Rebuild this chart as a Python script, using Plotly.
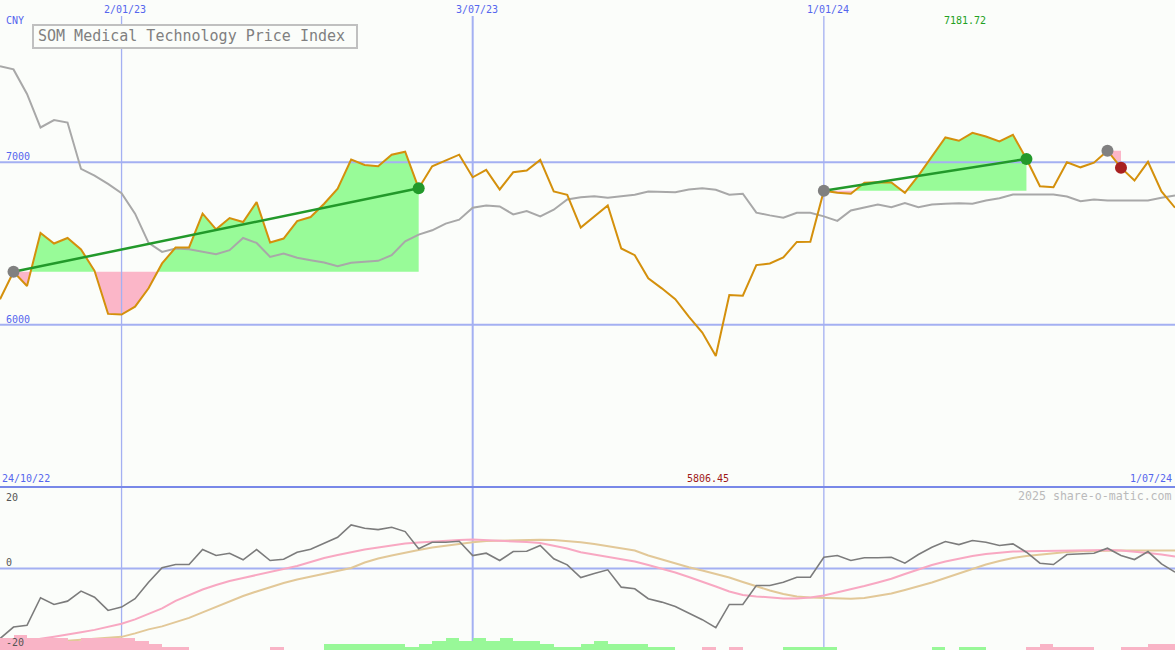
import plotly.graph_objects as go
import pandas as pd
import numpy as np

# ---------------- data ----------------
start_date = "2022-10-31"
n_weeks = 88
dates = pd.date_range(start_date, periods=n_weeks, freq="7D")

price = [6156.5, 6325.7, 6238.0, 6564.8, 6499.8, 6534.1, 6463.0, 6331.8, 6066.4, 6062.0,
         6111.1, 6224.0, 6377.2, 6475.3, 6476.0, 6683.7, 6587.5, 6656.7, 6632.2, 6754.8,
         6506.0, 6530.4, 6638.3, 6662.8, 6745.0, 6837.0, 7016.6, 6984.1, 6975.5, 7047.2,
         7065.6, 6840.0, 6975.5, 7010.4, 7047.2, 6908.0, 6953.4, 6832.7, 6938.7, 6949.1,
         7014.7, 6820.4, 6800.2, 6597.9, 6667.1, 6734.6, 6469.1, 6428.1, 6285.2, 6223.9,
         6156.5, 6049.8, 5951.8, 5806.45, 6182.9, 6178.6, 6366.8, 6377.2, 6414.0, 6509.6,
         6511.0, 6825.0, 6812.4, 6806.3, 6873.7, 6877.4, 6876.0, 6812.4, 6918.5, 7034.9,
         7153.3, 7133.0, 7181.72, 7159.4, 7128.7, 7169.8, 7020.8, 6852.9, 6846.7, 7000.0,
         6969.3, 6998.0, 7071.7, 6967.0, 6887.8, 7003.0, 6820.4, 6720.5]

average = [7592.8, 7572.5, 7421.1, 7214.6, 7259.9, 7245.2, 6959.5, 6918.5, 6867.6, 6810.0,
           6683.7, 6503.5, 6448.3, 6469.1, 6464.9, 6448.3, 6434.2, 6458.7, 6534.1, 6503.5,
           6417.6, 6438.5, 6412.7, 6397.4, 6383.3, 6360.6, 6380.9, 6387.0, 6393.1, 6428.1,
           6513.9, 6555.0, 6581.3, 6622.4, 6646.9, 6720.5, 6734.6, 6728.4, 6679.4, 6699.6,
           6667.1, 6708.2, 6771.4, 6785.4, 6791.6, 6781.8, 6791.6, 6800.2, 6820.4, 6820.4,
           6816.1, 6832.7, 6840.6, 6830.8, 6800.2, 6806.3, 6689.8, 6673.3, 6659.2, 6689.8,
           6689.8, 6667.1, 6639.6, 6703.9, 6724.1, 6740.7, 6724.1, 6748.7, 6724.1, 6740.7,
           6745.0, 6748.7, 6745.0, 6765.2, 6779.3, 6802.0, 6802.0, 6802.0, 6802.0, 6789.7,
           6760.9, 6771.4, 6765.2, 6765.2, 6765.2, 6765.2, 6781.8, 6795.9]

momentum = [-19.37, -16.17, -15.70, -8.07, -9.92, -9.01, -6.25, -7.91, -11.57, -10.66,
            -8.35, -3.77, 0.19, 1.10, 1.10, 5.23, 3.58, 4.22, 2.40, 5.23,
            2.20, 2.56, 4.49, 5.32, 6.97, 8.62, 12.04, 11.10, 10.74, 11.38,
            10.19, 5.43, 7.25, 7.25, 7.52, 3.58, 4.22, 2.20, 4.68, 4.77,
            6.34, 2.67, 1.02, -2.48, -1.38, -0.36, -5.15, -5.59, -8.35, -9.28,
            -10.47, -12.31, -14.13, -16.34, -9.92, -9.92, -4.68, -4.68, -3.77, -2.40,
            -2.40, 3.11, 3.58, 2.20, 2.95, 2.95, 3.11, 1.46, 3.86, 5.87,
            7.44, 6.61, 7.71, 7.25, 6.34, 6.80, 4.49, 1.46, 1.10, 3.86,
            4.05, 4.22, 5.59, 3.58, 2.48, 4.68, 1.29, -1.02]

signal = [-21.68, -20.94, -20.11, -19.42, -18.87, -18.32, -17.63, -16.94, -16.12, -15.24,
          -14.05, -12.54, -11.02, -8.95, -7.30, -5.79, -4.55, -3.44, -2.62, -1.79,
          -0.96, -0.14, 0.69, 1.79, 2.89, 3.72, 4.55, 5.23, 5.79, 6.34,
          6.89, 7.16, 7.44, 7.71, 7.85, 7.99, 7.85, 7.71, 7.58, 7.30,
          7.03, 6.34, 5.51, 4.49, 3.86, 3.31, 2.76, 1.93, 0.96, 0.0,
          -1.10, -2.34, -3.58, -4.96, -6.34, -7.30, -7.71, -7.99, -8.27, -8.27,
          -7.99, -7.44, -6.61, -5.79, -4.82, -3.86, -2.84, -1.52, -0.28, 0.96,
          1.93, 2.76, 3.44, 3.99, 4.41, 4.68, 4.77, 4.82, 4.82, 4.96,
          5.10, 5.15, 5.10, 4.96, 4.68, 4.27, 3.86, 3.31]

slow = [-21.90, -21.49, -21.21, -20.80, -20.39, -19.97, -19.70, -19.42, -19.15, -18.87,
        -17.91, -16.81, -15.98, -14.88, -13.64, -12.12, -10.61, -9.09, -7.58, -6.34,
        -5.10, -3.99, -3.03, -2.20, -1.38, -0.55, 0.14, 1.65, 2.76, 3.58,
        4.41, 5.10, 5.79, 6.34, 6.89, 7.25, 7.58, 7.71, 7.85, 7.91,
        7.91, 7.85, 7.58, 7.25, 6.75, 6.20, 5.65, 4.96, 3.58, 2.48,
        1.38, 0.36, -0.55, -1.52, -2.48, -3.72, -4.96, -6.06, -7.03, -7.71,
        -7.99, -8.07, -8.21, -8.35, -8.13, -7.58, -6.89, -5.92, -4.96, -3.86,
        -2.62, -1.38, -0.14, 1.10, 2.07, 2.89, 3.44, 3.86, 4.27, 4.55,
        4.77, 4.88, 4.96, 4.96, 4.96, 4.96, 4.96, 4.96]

histogram = [-4, -5, -4, -4, -4, -3, -4, -4, -4, -4,
             -3, -2, -1, -1, 0, 0, 0, 0, 0, 0,
             -1, 0, 0, 0, 2, 2, 2, 2, 2, 2,
             1, 2, 3, 4, 3, 4, 3, 4, 3, 3,
             2, 1, 1, 2, 3, 2, 2, 2, 1, 1,
             0, 0, -1, 0, -1, 0, 0, 0, 1, 1,
             1, 1, 0, 0, 0, 0, 0, 0, 0, 1,
             0, 1, 1, 0, 0, 0, -1, -2, -1, -1,
             -1, 0, 0, -1, -1, -2, -2, 0]

# trend signals: (start week index, end week index, end outcome)
trends = [(1, 31, "up"), (61, 76, "up"), (82, 83, "down")]

grid_dates = ["2023-01-02", "2023-07-03", "2024-01-01"]
grid_labels = ["2/01/23", "3/07/23", "1/01/24"]
price_grid = [6000, 7000]
price_range = [5000, 8000]
osc_range = [-22.5, 22.5]
hist_range = [0, 55.5]
x_range = ["2022-10-31", "2024-07-01"]

# ---------------- style ----------------
W, H = 1175, 650
BG = "#fbfdfa"
GRID = "#a4b0f2"
BLUE_TXT = "#5566ee"
FONT = "DejaVu Sans Mono"
GREEN_FILL = "#98fb98"
PINK_FILL = "#fbb6c8"
split_px = 487
top_dom = [1 - split_px / H, 1]
bot_dom = [0, 1 - split_px / H]

fig = go.Figure()

# histogram bars (bottom panel)
week_ms = 7 * 24 * 3600 * 1000
bar_x = dates + pd.Timedelta(days=3.5)
bar_colors = ["#98f898" if v > 0 else "#f9b4c6" for v in histogram]
fig.add_trace(go.Bar(x=bar_x, y=[abs(v) for v in histogram], width=week_ms,
                     marker=dict(color=bar_colors, line=dict(width=0)),
                     xaxis="x2", yaxis="y3", hoverinfo="skip", showlegend=False))

# fills between price and trend baseline
t_ms = dates.values.astype("datetime64[ms]").astype(np.int64).astype(float)


def seg_points(i0, i1):
    base = price[i0]
    xs, ys = [], []
    for i in range(i0, i1 + 1):
        if i > i0:
            a, b = price[i - 1] - base, price[i] - base
            if a * b < 0:
                f = a / (a - b)
                xs.append(t_ms[i - 1] + f * (t_ms[i] - t_ms[i - 1]))
                ys.append(base)
        xs.append(t_ms[i])
        ys.append(price[i])
    return pd.to_datetime(np.array(xs), unit="ms"), np.array(ys), base


for i0, i1, _ in trends:
    xs, ys, base = seg_points(i0, i1)
    basel = [base] * len(xs)
    for vals, col in ((np.maximum(ys, base), GREEN_FILL), (np.minimum(ys, base), PINK_FILL)):
        fig.add_trace(go.Scatter(x=xs, y=basel, mode="lines", line=dict(width=0),
                                 hoverinfo="skip", showlegend=False))
        fig.add_trace(go.Scatter(x=xs, y=vals, mode="lines", line=dict(width=0),
                                 fill="tonexty", fillcolor=col,
                                 hoverinfo="skip", showlegend=False))

# gridlines (drawn over fills)
for p in price_grid:
    fig.add_trace(go.Scatter(x=x_range, y=[p, p], mode="lines",
                             line=dict(color=GRID, width=2), hoverinfo="skip", showlegend=False))
fig.add_trace(go.Scatter(x=x_range, y=[0, 0], mode="lines", xaxis="x2", yaxis="y2",
                         line=dict(color=GRID, width=2), hoverinfo="skip", showlegend=False))
top_line_val = price_range[1] - 16 * (price_range[1] - price_range[0]) / split_px
for d, wdt in zip(grid_dates, [1.3, 2, 1.3]):
    fig.add_trace(go.Scatter(x=[d, d], y=[price_range[0], top_line_val], mode="lines",
                             line=dict(color=GRID, width=wdt), hoverinfo="skip", showlegend=False))
    fig.add_trace(go.Scatter(x=[d, d], y=osc_range, mode="lines", xaxis="x2", yaxis="y2",
                             line=dict(color=GRID, width=wdt), hoverinfo="skip", showlegend=False))

# average & price lines
fig.add_trace(go.Scatter(x=dates, y=average, mode="lines",
                         line=dict(color="#a8a8a8", width=2), hoverinfo="skip", showlegend=False))
fig.add_trace(go.Scatter(x=dates, y=price, mode="lines",
                         line=dict(color="#d4900c", width=2), hoverinfo="skip", showlegend=False))

# trend lines & markers
for i0, i1, outcome in trends:
    if outcome == "up":
        fig.add_trace(go.Scatter(x=[dates[i0], dates[i1]], y=[price[i0], price[i1]], mode="lines",
                                 line=dict(color="#22992a", width=2.5), hoverinfo="skip",
                                 showlegend=False))
for i0, i1, outcome in trends:
    fig.add_trace(go.Scatter(x=[dates[i0]], y=[price[i0]], mode="markers",
                             marker=dict(color="#808080", size=12), hoverinfo="skip",
                             showlegend=False))
    fig.add_trace(go.Scatter(x=[dates[i1]], y=[price[i1]], mode="markers",
                             marker=dict(color="#22992a" if outcome == "up" else "#a82020", size=12),
                             hoverinfo="skip", showlegend=False))

# oscillator lines
fig.add_trace(go.Scatter(x=dates, y=slow, mode="lines", xaxis="x2", yaxis="y2",
                         line=dict(color="#e2c898", width=2), hoverinfo="skip", showlegend=False))
fig.add_trace(go.Scatter(x=dates, y=signal, mode="lines", xaxis="x2", yaxis="y2",
                         line=dict(color="#f8a8c2", width=2), hoverinfo="skip", showlegend=False))
fig.add_trace(go.Scatter(x=dates, y=momentum, mode="lines", xaxis="x2", yaxis="y2",
                         line=dict(color="#7c7c7c", width=1.6), hoverinfo="skip", showlegend=False))

# ---------------- layout ----------------
ax_common = dict(visible=False, showgrid=False, zeroline=False, fixedrange=True)
fig.update_layout(
    width=W, height=H, margin=dict(l=0, r=0, t=0, b=0),
    paper_bgcolor=BG, plot_bgcolor=BG, showlegend=False, bargap=0,
    xaxis=dict(domain=[0, 1], range=x_range, anchor="y", **ax_common),
    yaxis=dict(domain=top_dom, range=price_range, anchor="x", **ax_common),
    xaxis2=dict(domain=[0, 1], range=x_range, anchor="y2", **ax_common),
    yaxis2=dict(domain=bot_dom, range=osc_range, anchor="x2", **ax_common),
    yaxis3=dict(domain=bot_dom, range=hist_range, overlaying="y2", anchor="x2", **ax_common),
)


def px(x):
    return x / W


def py(y):
    return 1 - y / H


# separator and title box
fig.add_shape(type="line", xref="paper", yref="paper", x0=0, x1=1,
              y0=py(split_px), y1=py(split_px), line=dict(color="#7888e8", width=2))
fig.add_shape(type="rect", xref="paper", yref="paper", x0=px(33), x1=px(357),
              y0=py(48), y1=py(25), fillcolor=BG, line=dict(color="#c0c0c0", width=2),
              layer="above")


def txt(text, x, y, anchor="left", color=BLUE_TXT, size=10):
    fig.add_annotation(text=text, x=px(x), y=py(y), xref="paper", yref="paper",
                       xanchor=anchor, yanchor="middle", showarrow=False,
                       font=dict(family=FONT, size=size, color=color), borderpad=0)


txt("SOM Medical Technology Price Index", 37, 36.5, color="#808080", size=15)
txt("CNY", 5, 21)
for lab, cx in zip(grid_labels, [125, 476.5, 827.5]):
    txt(lab, cx, 9.5, anchor="center")
txt(f"{max(price):.2f}", 964.5, 20, anchor="center", color="#22a022")
txt("7000", 5, 156)
txt("6000", 5, 319)
txt("24/10/22", 1, 478.5)
txt(f"{min(price):.2f}", 707.5, 478.5, anchor="center", color="#a01818")
txt("1/07/24", 1173, 478.5, anchor="right")
txt("2025 share-o-matic.com", 1173, 496, anchor="right", color="#bababa", size=11.6)
txt("20", 5, 497, color="#555555")
txt("0", 5, 562, color="#555555")
txt("-20", 5, 642, color="#555555")

fig.write_html(
    "out.html",
    config={"displayModeBar": False, "staticPlot": True},
    post_script="document.body.style.margin='0';document.body.style.overflow='hidden';",
)
